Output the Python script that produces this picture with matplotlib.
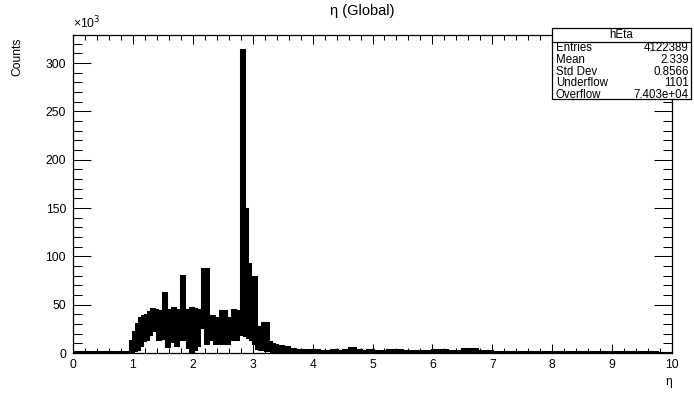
import numpy as np
import matplotlib
matplotlib.use("Agg")
import matplotlib.pyplot as plt
from matplotlib.patches import Rectangle
from matplotlib.ticker import MultipleLocator

plt.rcParams["font.family"] = ["Liberation Sans", "DejaVu Sans"]

# --- data (counts in units of 10^3) ---
# bin edges: one wide bin below the turn-on, 0.05 bins over the bulk,
# 0.1 bins in the near tail, 0.25 bins out to 10
edges = np.concatenate([
    [0.0],
    np.round(np.arange(0.95, 3.40, 0.05), 2),
    np.round(np.arange(3.40, 5.00, 0.1), 2),
    np.round(np.arange(5.00, 10.001, 0.25), 2),
])

# upper envelope of the (oscillating) fine-binned histogram
hi_head = [1.5]
hi_bulk = [12, 22, 30, 36, 38, 39, 42, 46, 44, 43,
           40, 62, 45, 44, 47, 45, 42, 80, 45, 45,
           47, 46, 42, 44, 87, 87, 37, 38, 36, 35,
           43, 43, 36, 36, 44, 43, 36, 313, 149, 92,
           79, 79, 27, 22, 31, 31, 11, 9, 8]
hi_near = [7, 6, 4, 3.5, 3, 3, 3.5, 2.5, 2.5, 3, 2.5, 3, 5.5, 3, 2.5, 3.5]
hi_tail = [2.5, 3, 2.5, 2.5, 3, 2, 4.5, 2, 1.5, 1.5,
           1.5, 1.2, 1, 1, 1, 0.8, 0.8, 0.6, 0.6, 0.5]

# lower envelope
lo_head = [0.5]
lo_bulk = [2, 3, 4, 8, 13, 14, 20, 25, 24, 14,
           16, 20, 7, 12, 16, 8, 15, 14, 20, 6,
           1, 4, 8, 27, 27, 10, 14, 14, 10, 14,
           10, 14, 10, 14, 16, 14, 20, 34, 19, 17,
           14, 10, 5, 4, 4, 3, 3, 2, 2]
lo_near = [2, 2, 1.5, 1.5, 1.5, 1, 1, 1, 1, 1, 1, 1, 1, 1, 1, 1]
lo_tail = [0.5] * 20

hi = np.array(hi_head + hi_bulk + hi_near + hi_tail, dtype=float)
lo = np.array(lo_head + lo_bulk + lo_near + lo_tail, dtype=float)

x_ticks = list(range(0, 11))
y_ticks = list(range(0, 301, 50))

stats_labels = ["Entries", "Mean", "Std Dev", "Underflow", "Overflow"]
stats_values = ["4122389", "2.339", "0.8566", "1101", "7.403e+04"]

W, H = 694, 393
fig = plt.figure(figsize=(W / 100, H / 100), dpi=100)
ax = fig.add_axes([73 / W, 1 - 353 / H, 599 / W, 318 / H])

ax.stairs(hi, edges, baseline=lo, fill=True, color="black", lw=0)
ax.stairs(hi, edges, baseline=None, color="black", lw=2.2)
ax.stairs(lo, edges, baseline=None, color="black", lw=2.2)

ax.set_xlim(0, 10)
ax.set_ylim(0, 329)

ax.set_xticks(x_ticks, [str(v) for v in x_ticks])
ax.set_yticks(y_ticks, [str(v) for v in y_ticks])
ax.xaxis.set_minor_locator(MultipleLocator(0.2))
ax.yaxis.set_minor_locator(MultipleLocator(10))

ax.tick_params(axis="both", which="both", direction="in",
               top=True, right=True, width=0.75, labelsize=8.7)
ax.tick_params(axis="x", which="major", length=6.8, pad=4)
ax.tick_params(axis="x", which="minor", length=3.4)
ax.tick_params(axis="y", which="major", length=13, pad=5)
ax.tick_params(axis="y", which="minor", length=6.5)
for s in ax.spines.values():
    s.set_linewidth(0.9)

fig.text(362 / W, 1 - 11 / H, "η (Global)", ha="center", va="center", fontsize=10.5)
fig.text(17 / W, 1 - 37 / H, "Counts", rotation=90, ha="center", va="top", fontsize=8.7)
fig.text(672 / W, 1 - 382 / H, "η", ha="right", va="center", fontsize=8.7)
fig.text(73 / W, 1 - 31 / H, "×10$^{3}$", ha="left", va="bottom", fontsize=8.7)

# stats box
bx0, bx1, by0, by1 = 552, 691, 28, 99
fig.add_artist(Rectangle((bx0 / W, 1 - by1 / H), (bx1 - bx0) / W, (by1 - by0) / H,
                         transform=fig.transFigure, facecolor="white",
                         edgecolor="black", lw=0.9, zorder=10))
fig.add_artist(plt.Line2D([bx0 / W, bx1 / W], [1 - 41.5 / H, 1 - 41.5 / H],
                          transform=fig.transFigure, color="black", lw=0.9, zorder=11))
fig.text((bx0 + bx1) / 2 / W, 1 - 35 / H, "hEta", ha="center", va="center",
         fontsize=8.3, zorder=12)
for i, (lab, val) in enumerate(zip(stats_labels, stats_values)):
    y = 1 - (48 + 11.8 * i) / H
    fig.text(556 / W, y, lab, ha="left", va="center", fontsize=8.3, zorder=12)
    fig.text(689 / W, y, val, ha="right", va="center", fontsize=8.3, zorder=12)

fig.savefig("out.png", dpi=100)
